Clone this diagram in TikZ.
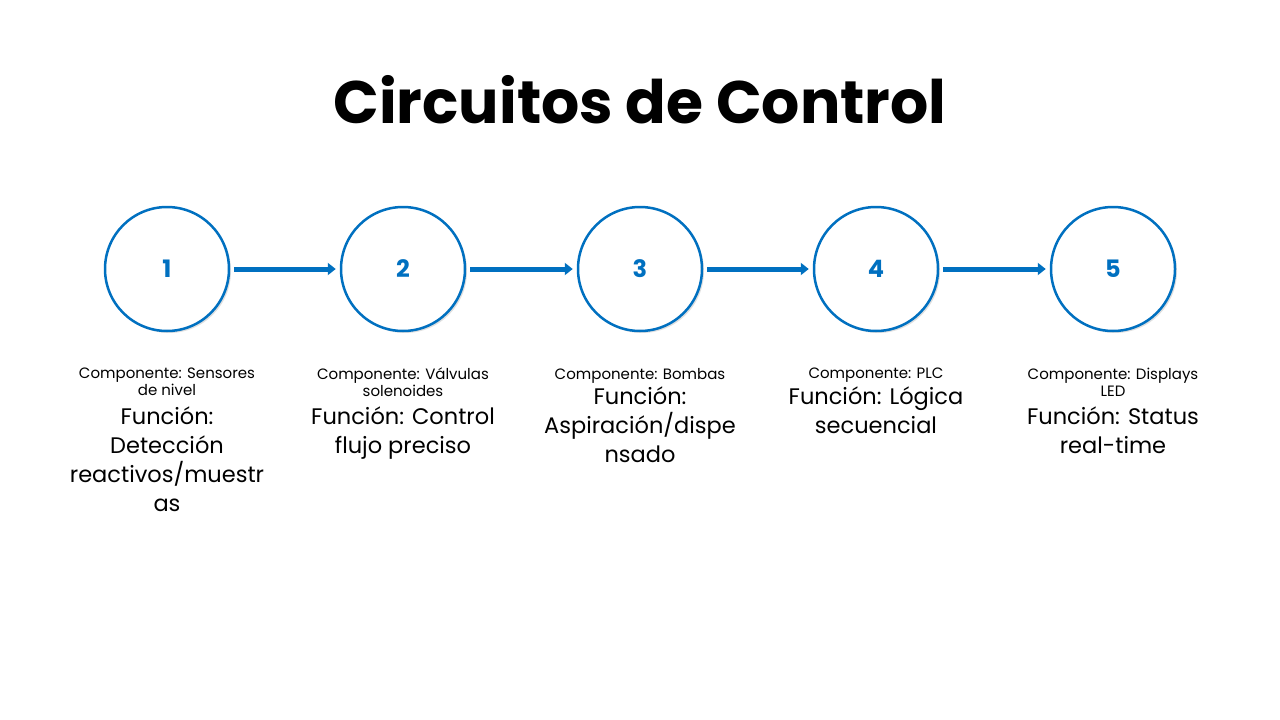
\documentclass[tikz,border=0pt]{standalone}
\usepackage{fontspec}
\setmainfont{Poppins}
\usetikzlibrary{shadows,arrows.meta}
\definecolor{cblue}{HTML}{0070C0}
\begin{document}
\begin{tikzpicture}[x=1pt,y=-1pt,
  stepcirc/.style={circle,draw=cblue,line width=2.5pt,fill=white,minimum size=124pt,inner sep=0pt,
    font=\fontsize{24}{28}\selectfont\bfseries,text=cblue,drop shadow={shadow xshift=2pt,shadow yshift=-2pt,opacity=0.25}},
  comp/.style={align=center,font=\fontsize{15}{17}\selectfont,anchor=north,inner sep=0pt},
  func/.style={align=center,font=\fontsize{22.5}{29}\selectfont,anchor=north,inner sep=0pt},
  flow/.style={draw=cblue,line width=5pt,-{Triangle[length=8pt,width=12pt]},shorten <=4pt,shorten >=4pt}]
\useasboundingbox (0,0) rectangle (1280,720);
\fill[white] (0,0) rectangle (1280,720);
\node[font=\fontsize{60}{70}\selectfont\bfseries] (title) at (640,100) {Circuitos de Control};
\foreach \i/\x in {1/167,2/403,3/640,4/876,5/1113}{
  \node[stepcirc] (c\i) at (\x,269) {\i};
}
\foreach \a/\b in {1/2,2/3,3/4,4/5}{ \draw[flow] (c\a) -- (c\b); }
\node[comp] (k1) at (167,368) {Componente: Sensores\\de nivel};
\node[func] (f1) at (167,407) {Función:\\Detección\\reactivos/muestr\\as};
\node[comp] (k2) at (403,368) {Componente: Válvulas\\solenoides};
\node[func] (f2) at (403,407) {Función: Control\\flujo preciso};
\node[comp] (k3) at (640,368) {Componente: Bombas};
\node[func] (f3) at (640,387) {Función:\\Aspiración/dispe\\nsado};
\node[comp] (k4) at (876,368) {Componente: PLC};
\node[func] (f4) at (876,387) {Función: Lógica\\secuencial};
\node[comp] (k5) at (1113,368) {Componente: Displays\\LED};
\node[func] (f5) at (1113,407) {Función: Status\\real-time};
\end{tikzpicture}
\end{document}
